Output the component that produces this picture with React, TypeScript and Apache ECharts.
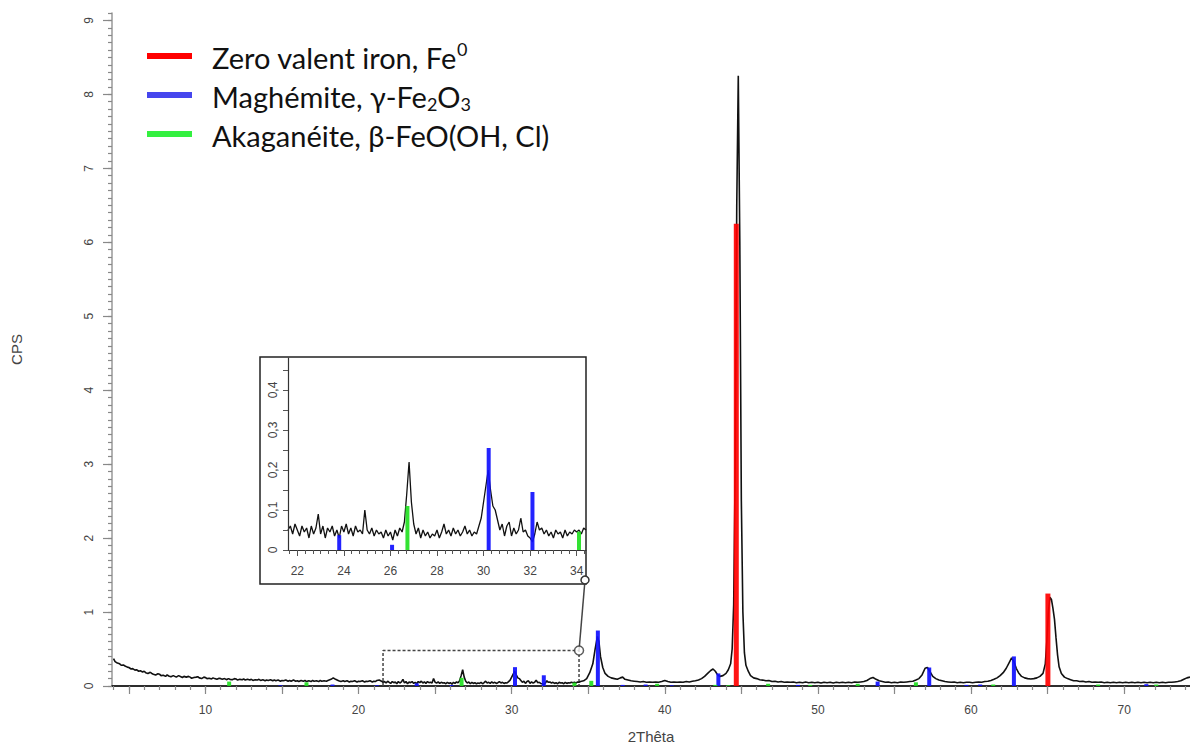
import React, { useEffect, useRef } from "react";
import * as echarts from "echarts";

// ---------- data (2θ in degrees, intensity in CPS) ----------
const scanLow: [number, number][] = [
  [4.0, 0.37], [4.1, 0.33], [4.25, 0.31], [4.4, 0.3], [4.5, 0.28], [4.65, 0.285], [4.75, 0.27], [4.9, 0.255],
  [5.0, 0.25], [5.15, 0.23], [5.25, 0.235], [5.4, 0.215], [5.5, 0.22], [5.65, 0.2], [5.75, 0.205], [5.9, 0.19],
  [6.0, 0.2], [6.1, 0.18], [6.25, 0.17], [6.4, 0.185], [6.5, 0.17], [6.6, 0.16], [6.75, 0.15], [6.9, 0.165],
  [7.0, 0.16], [7.1, 0.14], [7.25, 0.145], [7.4, 0.13], [7.5, 0.15], [7.6, 0.135], [7.75, 0.125], [7.9, 0.14],
  [8.0, 0.13], [8.1, 0.12], [8.25, 0.14], [8.4, 0.125], [8.5, 0.115], [8.6, 0.13], [8.75, 0.12], [8.9, 0.13],
  [9.0, 0.12], [9.1, 0.105], [9.25, 0.115], [9.4, 0.12], [9.5, 0.125], [9.6, 0.11], [9.75, 0.1], [9.9, 0.12],
  [10.0, 0.115], [10.1, 0.1], [10.25, 0.105], [10.4, 0.095], [10.5, 0.11], [10.6, 0.1], [10.75, 0.09],
  [10.9, 0.105], [11.0, 0.1], [11.1, 0.09], [11.25, 0.1], [11.4, 0.085], [11.5, 0.1], [11.6, 0.09],
  [11.75, 0.085], [11.9, 0.1], [12.0, 0.095], [12.1, 0.08], [12.25, 0.09], [12.4, 0.085], [12.5, 0.095],
  [12.6, 0.08], [12.75, 0.09], [12.9, 0.08], [13.0, 0.09], [13.1, 0.075], [13.25, 0.085], [13.4, 0.08],
  [13.5, 0.09], [13.6, 0.075], [13.75, 0.085], [13.9, 0.07], [14.0, 0.08], [14.1, 0.075], [14.25, 0.085],
  [14.4, 0.07], [14.5, 0.08], [14.6, 0.07], [14.75, 0.08], [14.9, 0.065], [15.0, 0.075], [15.1, 0.07],
  [15.25, 0.08], [15.4, 0.065], [15.5, 0.075], [15.6, 0.065], [15.75, 0.08], [15.9, 0.065], [16.0, 0.07],
  [16.1, 0.06], [16.25, 0.075], [16.4, 0.065], [16.5, 0.075], [16.6, 0.06], [16.75, 0.07], [16.9, 0.06],
  [17.0, 0.075], [17.1, 0.065], [17.25, 0.07], [17.4, 0.06], [17.5, 0.075], [17.6, 0.065], [17.75, 0.07],
  [17.9, 0.065], [18.0, 0.075], [18.2, 0.09], [18.35, 0.11], [18.5, 0.09], [18.7, 0.07], [18.85, 0.06],
  [19.0, 0.07], [19.1, 0.06], [19.25, 0.07], [19.4, 0.055], [19.5, 0.065], [19.6, 0.06], [19.75, 0.07],
  [19.9, 0.055], [20.0, 0.065], [20.1, 0.06], [20.25, 0.07], [20.4, 0.055], [20.5, 0.065], [20.6, 0.06],
  [20.75, 0.07], [20.9, 0.055], [21.0, 0.065], [21.1, 0.06], [21.2, 0.075], [21.35, 0.08], [21.5, 0.065],
];

const scanInset: [number, number][] = [
  [21.6, 0.05], [21.7, 0.06], [21.8, 0.04], [21.9, 0.065], [22.0, 0.05], [22.1, 0.035], [22.2, 0.06],
  [22.3, 0.045], [22.4, 0.055], [22.5, 0.03], [22.6, 0.06], [22.7, 0.04], [22.8, 0.055], [22.9, 0.09],
  [23.0, 0.04], [23.1, 0.06], [23.2, 0.03], [23.3, 0.055], [23.4, 0.045], [23.5, 0.06], [23.6, 0.035],
  [23.7, 0.05], [23.8, 0.03], [23.9, 0.06], [24.0, 0.045], [24.1, 0.065], [24.2, 0.04], [24.3, 0.055],
  [24.4, 0.035], [24.5, 0.06], [24.6, 0.045], [24.7, 0.05], [24.8, 0.04], [24.9, 0.1], [25.0, 0.05],
  [25.1, 0.04], [25.2, 0.055], [25.3, 0.035], [25.4, 0.05], [25.5, 0.04], [25.6, 0.045], [25.7, 0.03],
  [25.8, 0.05], [25.9, 0.035], [26.0, 0.045], [26.1, 0.025], [26.2, 0.05], [26.3, 0.035], [26.4, 0.055],
  [26.5, 0.045], [26.6, 0.07], [26.7, 0.14], [26.8, 0.22], [26.9, 0.12], [27.0, 0.065], [27.1, 0.04],
  [27.2, 0.055], [27.3, 0.03], [27.4, 0.05], [27.5, 0.035], [27.6, 0.045], [27.7, 0.03], [27.8, 0.04],
  [27.9, 0.035], [28.0, 0.05], [28.1, 0.03], [28.2, 0.045], [28.3, 0.065], [28.4, 0.04], [28.5, 0.05],
  [28.6, 0.035], [28.7, 0.055], [28.8, 0.04], [28.9, 0.05], [29.0, 0.035], [29.1, 0.045], [29.2, 0.06],
  [29.3, 0.04], [29.4, 0.05], [29.5, 0.035], [29.6, 0.045], [29.7, 0.04], [29.8, 0.06], [29.9, 0.08],
  [30.0, 0.12], [30.1, 0.16], [30.2, 0.2], [30.3, 0.15], [30.4, 0.11], [30.5, 0.1], [30.6, 0.075],
  [30.7, 0.05], [30.8, 0.065], [30.9, 0.035], [31.0, 0.06], [31.1, 0.07], [31.2, 0.035], [31.3, 0.055],
  [31.4, 0.04], [31.5, 0.05], [31.6, 0.08], [31.7, 0.045], [31.8, 0.05], [31.9, 0.035], [32.0, 0.03],
  [32.1, 0.02], [32.2, 0.04], [32.3, 0.07], [32.4, 0.05], [32.5, 0.055], [32.6, 0.04], [32.7, 0.05],
  [32.8, 0.035], [32.9, 0.045], [33.0, 0.03], [33.1, 0.05], [33.2, 0.04], [33.3, 0.045], [33.4, 0.03],
  [33.5, 0.05], [33.6, 0.035], [33.7, 0.045], [33.8, 0.04], [33.9, 0.05], [34.0, 0.045], [34.1, 0.05],
  [34.2, 0.04], [34.3, 0.055], [34.4, 0.05],
];

const scanHigh: [number, number][] = [
  [34.5, 0.06], [34.7, 0.07], [34.9, 0.1], [35.1, 0.18], [35.3, 0.3], [35.45, 0.5], [35.6, 0.67], [35.7, 0.6],
  [35.8, 0.4], [35.95, 0.25], [36.1, 0.17], [36.3, 0.13], [36.5, 0.11], [36.7, 0.1], [36.9, 0.09], [37.1, 0.11],
  [37.25, 0.12], [37.4, 0.09], [37.6, 0.08], [37.8, 0.07], [38.0, 0.065], [38.2, 0.06], [38.4, 0.055],
  [38.6, 0.06], [38.8, 0.05], [39.0, 0.055], [39.2, 0.05], [39.4, 0.055], [39.6, 0.05], [39.8, 0.06],
  [40.0, 0.075], [40.2, 0.06], [40.4, 0.05], [40.6, 0.055], [40.8, 0.05], [41.0, 0.055], [41.2, 0.05],
  [41.4, 0.06], [41.6, 0.055], [41.8, 0.065], [42.0, 0.07], [42.2, 0.08], [42.4, 0.1], [42.6, 0.13],
  [42.8, 0.17], [43.0, 0.21], [43.15, 0.23], [43.3, 0.2], [43.45, 0.15], [43.6, 0.13], [43.8, 0.14],
  [44.0, 0.17], [44.15, 0.22], [44.3, 0.3], [44.4, 0.5], [44.5, 1.1], [44.6, 3.0], [44.7, 6.5], [44.8, 8.25],
  [44.9, 6.0], [45.0, 2.5], [45.1, 1.0], [45.2, 0.45], [45.3, 0.28], [45.45, 0.2], [45.6, 0.14], [45.8, 0.11],
  [46.0, 0.1], [46.2, 0.085], [46.4, 0.08], [46.6, 0.07], [46.8, 0.075], [47.0, 0.06], [47.2, 0.065],
  [47.4, 0.055], [47.6, 0.06], [47.8, 0.05], [48.0, 0.055], [48.2, 0.05], [48.4, 0.055], [48.6, 0.045],
  [48.8, 0.05], [49.0, 0.045], [49.2, 0.055], [49.4, 0.045], [49.6, 0.05], [49.8, 0.045], [50.0, 0.05],
  [50.2, 0.04], [50.4, 0.05], [50.6, 0.045], [50.8, 0.05], [51.0, 0.04], [51.2, 0.05], [51.4, 0.045],
  [51.6, 0.05], [51.8, 0.045], [52.0, 0.05], [52.2, 0.045], [52.4, 0.055], [52.6, 0.05], [52.8, 0.055],
  [53.0, 0.06], [53.2, 0.075], [53.4, 0.1], [53.6, 0.115], [53.8, 0.09], [54.0, 0.07], [54.2, 0.06],
  [54.4, 0.05], [54.6, 0.055], [54.8, 0.045], [55.0, 0.05], [55.2, 0.045], [55.4, 0.055], [55.6, 0.05],
  [55.8, 0.055], [56.0, 0.06], [56.2, 0.065], [56.4, 0.08], [56.6, 0.1], [56.8, 0.15], [57.0, 0.24],
  [57.15, 0.25], [57.3, 0.2], [57.5, 0.13], [57.7, 0.1], [57.9, 0.08], [58.1, 0.07], [58.3, 0.06],
  [58.5, 0.055], [58.7, 0.05], [58.9, 0.055], [59.1, 0.045], [59.3, 0.05], [59.5, 0.045], [59.7, 0.05],
  [59.9, 0.05], [60.1, 0.045], [60.3, 0.05], [60.5, 0.055], [60.7, 0.05], [60.9, 0.06], [61.1, 0.065],
  [61.3, 0.075], [61.5, 0.09], [61.7, 0.11], [61.9, 0.14], [62.1, 0.18], [62.3, 0.24], [62.5, 0.32],
  [62.65, 0.38], [62.8, 0.33], [62.95, 0.24], [63.1, 0.18], [63.3, 0.13], [63.5, 0.11], [63.7, 0.1],
  [63.9, 0.095], [64.1, 0.1], [64.3, 0.11], [64.5, 0.13], [64.7, 0.17], [64.85, 0.3], [64.95, 0.6],
  [65.05, 1.0], [65.15, 1.2], [65.25, 1.17], [65.35, 1.05], [65.45, 0.9], [65.55, 0.65], [65.65, 0.42],
  [65.75, 0.26], [65.9, 0.17], [66.1, 0.12], [66.3, 0.1], [66.5, 0.085], [66.7, 0.07], [66.9, 0.07],
  [67.1, 0.06], [67.3, 0.065], [67.5, 0.055], [67.7, 0.06], [67.9, 0.05], [68.1, 0.055], [68.3, 0.05],
  [68.5, 0.055], [68.7, 0.045], [68.9, 0.05], [69.1, 0.045], [69.3, 0.05], [69.5, 0.045], [69.7, 0.05],
  [69.9, 0.045], [70.1, 0.05], [70.3, 0.045], [70.5, 0.05], [70.7, 0.045], [70.9, 0.05], [71.1, 0.045],
  [71.3, 0.05], [71.5, 0.045], [71.7, 0.05], [71.9, 0.045], [72.1, 0.05], [72.3, 0.045], [72.5, 0.05],
  [72.7, 0.045], [72.9, 0.05], [73.1, 0.05], [73.3, 0.055], [73.5, 0.06], [73.7, 0.07], [73.9, 0.09],
  [74.1, 0.11], [74.3, 0.12],
];

// reference patterns (stick positions / heights)
const ironSticks: [number, number][] = [[44.67, 6.25], [65.02, 1.25]];
const maghemiteSticks: [number, number][] = [
  [14.9, 0.01], [18.3, 0.02], [21.2, 0.01], [23.8, 0.037], [26.07, 0.013], [30.22, 0.255], [32.1, 0.145],
  [35.63, 0.75], [37.25, 0.015], [38.75, 0.02], [40.45, 0.01], [43.5, 0.17], [48.7, 0.015], [53.9, 0.06],
  [57.27, 0.25], [59.7, 0.015], [60.6, 0.02], [62.8, 0.4], [71.45, 0.025],
];
const akaganeiteSticks: [number, number][] = [
  [11.55, 0.06], [16.6, 0.05], [26.73, 0.11], [34.1, 0.046], [35.2, 0.07], [39.5, 0.03], [43.3, 0.015],
  [44.15, 0.01], [46.75, 0.03], [49.5, 0.015], [52.6, 0.03], [56.4, 0.05], [61.45, 0.02], [68.3, 0.02],
  [72.1, 0.02],
];

const insetRange: [number, number] = [21.6, 34.4];
const insetTop = 0.48;

// tick labels
const mainXLabels = [10, 20, 30, 40, 50, 60, 70];
const mainXMajorTicks = [5, 10, 15, 20, 25, 30, 35, 40, 45, 50, 55, 60, 65, 70];
const mainYLabels = [0, 1, 2, 3, 4, 5, 6, 7, 8, 9];
const insetXLabels = [22, 24, 26, 28, 30, 32, 34];
const insetYLabels = [0, 0.1, 0.2, 0.3, 0.4];
const insetYTicks = [0, 0.05, 0.1, 0.15, 0.2, 0.25, 0.3, 0.35, 0.4, 0.45];

const legendItems = [
  { color: "#ff0000", text: "{t|Zero valent iron, Fe}{sup|0}" },
  { color: "#4646ee", text: "{t|Maghémite, γ-Fe}{sub|2}{t|O}{sub|3}" },
  { color: "#33f040", text: "{t|Akaganéite, β-FeO(OH, Cl)}" },
];

const FONT = "'Liberation Sans', Arial, sans-serif";
const LEGEND_FONT = "Lato, 'Open Sans', sans-serif";

function rangeTicks(from: number, to: number, step: number): number[] {
  const out: number[] = [];
  const n = Math.round((to - from) / step);
  for (let i = 0; i <= n; i++) out.push(Math.round((from + i * step) * 1000) / 1000);
  return out;
}

function stickSeries(data: [number, number][], color: string, width: number, axisIdx: number, yIdx: number) {
  return {
    type: "custom",
    xAxisIndex: axisIdx,
    yAxisIndex: yIdx,
    clip: true,
    z: 4,
    data,
    encode: { x: 0, y: 1 },
    renderItem: (_p: any, api: any) => {
      const x = api.value(0);
      const h = api.value(1);
      const p0 = api.coord([x, 0]);
      const p1 = api.coord([x, h]);
      return {
        type: "rect",
        shape: { x: p0[0] - width / 2, y: p1[1], width, height: Math.max(1, p0[1] - p1[1]) },
        style: { fill: color, opacity: 0.92 },
      };
    },
  };
}

export default function App() {
  const ref = useRef<HTMLDivElement>(null);
  useEffect(() => {
    if (!ref.current) return;
    const chart = echarts.init(ref.current, null, { renderer: "svg" });
    const fullScan = [...scanLow, ...scanInset, ...scanHigh];
    const inRange = (d: [number, number]) => d[0] >= insetRange[0] && d[0] <= insetRange[1];

    const option: any = {
      animation: false,
      backgroundColor: "#ffffff",
      textStyle: { fontFamily: FONT },
      grid: [
        { left: 112, top: 13, right: 0, bottom: 59 },
        { left: 288, top: 358, width: 298, height: 192, z: 5 },
      ],
      xAxis: [
        {
          type: "value", gridIndex: 0, min: 3.9, max: 74.3, position: "bottom",
          axisLine: { show: true, onZero: false, lineStyle: { color: "#a0a0a0", width: 1.5 } },
          axisTick: { show: true, length: 8, customValues: mainXMajorTicks, lineStyle: { color: "#888", width: 1.2 } },
          axisLabel: { customValues: mainXLabels, color: "#444", fontSize: 12, margin: 18, fontFamily: FONT },
          splitLine: { show: false },
          name: "2Thêta", nameLocation: "middle", nameGap: 43,
          nameTextStyle: { color: "#444", fontSize: 15, fontFamily: FONT },
        },
        {
          type: "value", gridIndex: 0, min: 3.9, max: 74.3, position: "bottom",
          axisLine: { show: false },
          axisTick: { show: true, length: 4, customValues: rangeTicks(4, 74, 1), lineStyle: { color: "#888", width: 1.2 } },
          axisLabel: { show: false },
          splitLine: { show: false },
        },
        {
          type: "value", gridIndex: 0, min: 3.9, max: 74.3, position: "top",
          axisLine: { show: true, lineStyle: { color: "#000", width: 1.5 } },
          axisTick: { show: false }, axisLabel: { show: false }, splitLine: { show: false },
        },
        {
          type: "value", gridIndex: 1, min: insetRange[0], max: insetRange[1], position: "bottom", z: 6,
          axisLine: { show: true, onZero: false, lineStyle: { color: "#333", width: 1.2 } },
          axisTick: { show: true, length: 6, customValues: insetXLabels, lineStyle: { color: "#555" } },
          axisLabel: { customValues: insetXLabels, color: "#444", fontSize: 12, margin: 15, fontFamily: FONT },
          splitLine: { show: false },
        },
        {
          type: "value", gridIndex: 1, min: insetRange[0], max: insetRange[1], position: "bottom", z: 6,
          axisLine: { show: false },
          axisTick: { show: true, length: 4, customValues: rangeTicks(21.667, 34.333, 1 / 3), lineStyle: { color: "#555" } },
          axisLabel: { show: false }, splitLine: { show: false },
        },
      ],
      yAxis: [
        {
          type: "value", gridIndex: 0, min: 0, max: 9.1, position: "left",
          axisLine: { show: true, onZero: false, lineStyle: { color: "#999", width: 1.5 } },
          axisTick: { show: true, length: 9, customValues: mainYLabels, lineStyle: { color: "#888", width: 1.2 } },
          axisLabel: { customValues: mainYLabels, rotate: 90, color: "#444", fontSize: 12, margin: 17, fontFamily: FONT },
          splitLine: { show: false },
          name: "CPS", nameLocation: "middle", nameGap: 88, nameRotate: 90,
          nameTextStyle: { color: "#444", fontSize: 15, fontFamily: FONT },
        },
        {
          type: "value", gridIndex: 0, min: 0, max: 9.1, position: "left",
          axisLine: { show: false },
          axisTick: { show: true, length: 4, customValues: rangeTicks(0, 9.1, 0.1), lineStyle: { color: "#888", width: 1.2 } },
          axisLabel: { show: false }, splitLine: { show: false },
        },
        {
          type: "value", gridIndex: 1, min: 0, max: insetTop, position: "left", z: 6,
          axisLine: { show: true, onZero: false, lineStyle: { color: "#333", width: 1.2 } },
          axisTick: { show: true, length: 5, customValues: insetYTicks, lineStyle: { color: "#555" } },
          axisLabel: {
            customValues: insetYLabels, rotate: 90, color: "#444", fontSize: 12, margin: 9, fontFamily: FONT,
            formatter: (v: number) => String(v).replace(".", ","),
          },
          splitLine: { show: false },
        },
      ],
      series: [
        {
          type: "line", xAxisIndex: 0, yAxisIndex: 0, data: fullScan, showSymbol: false, symbol: "none",
          lineStyle: { color: "#111", width: 1.6 }, z: 3,
        },
        {
          type: "line", xAxisIndex: 0, yAxisIndex: 0, symbol: "none", showSymbol: false, z: 2,
          data: [[insetRange[0], 0], [insetRange[0], insetTop], [insetRange[1], insetTop], [insetRange[1], 0]],
          lineStyle: { color: "#444", width: 1.5, type: [3, 2] },
        },
        {
          type: "scatter", xAxisIndex: 0, yAxisIndex: 0, z: 6, symbol: "circle", symbolSize: 9,
          data: [[insetRange[1], insetTop]],
          itemStyle: { color: "#fff", borderColor: "#333", borderWidth: 1.5 },
        },
        stickSeries(ironSticks, "#ff0000", 5, 0, 0),
        stickSeries(maghemiteSticks, "#1010ff", 4, 0, 0),
        stickSeries(akaganeiteSticks, "#22e022", 4, 0, 0),
        {
          type: "line", xAxisIndex: 3, yAxisIndex: 2, data: scanInset, showSymbol: false, symbol: "none",
          lineStyle: { color: "#111", width: 1.3 }, z: 3,
        },
        stickSeries(maghemiteSticks.filter(inRange), "#1010ff", 4, 3, 2),
        stickSeries(akaganeiteSticks.filter(inRange), "#22e022", 4, 3, 2),
      ],
    };
    chart.setOption(option);

    const corner = chart.convertToPixel({ gridIndex: 0 }, [insetRange[1], insetTop]) as number[];
    const boxCorner = [585, 580];
    const graphics: any[] = [
      {
        type: "rect", z: -1, shape: { x: 260, y: 357, width: 326, height: 227 },
        style: { fill: "#fff", stroke: "#222", lineWidth: 1.5 },
      },
      {
        type: "line", z: 5, shape: { x1: corner[0], y1: corner[1], x2: boxCorner[0], y2: boxCorner[1] },
        style: { stroke: "#444", lineWidth: 1.5 },
      },
      {
        type: "circle", z: 7, shape: { cx: boxCorner[0], cy: boxCorner[1], r: 4 },
        style: { fill: "#fff", stroke: "#333", lineWidth: 1.5 },
      },
    ];
    legendItems.forEach((item, i) => {
      const y = 56 + i * 39;
      graphics.push({
        type: "line", z: 8, shape: { x1: 147, y1: y, x2: 192, y2: y },
        style: { stroke: item.color, lineWidth: 6 },
      });
      graphics.push({
        type: "text", z: 8, x: 212, y: y + 1,
        style: {
          text: item.text, verticalAlign: "middle", align: "left",
          rich: {
            t: { fontSize: 29, fontFamily: LEGEND_FONT, fill: "#111", lineHeight: 34 },
            sup: { fontSize: 18, fontFamily: LEGEND_FONT, fill: "#111", verticalAlign: "top", lineHeight: 34, padding: [0, 0, 14, 0] },
            sub: { fontSize: 18, fontFamily: LEGEND_FONT, fill: "#111", verticalAlign: "bottom", lineHeight: 34, padding: [10, 0, 0, 0] },
          },
        },
      });
    });
    chart.setOption({ graphic: graphics });

    return () => chart.dispose();
  }, []);
  return (
    <div
      ref={ref}
      style={{ position: "fixed", left: 0, top: 0, width: 1190, height: 749, background: "#fff" }}
    />
  );
}
